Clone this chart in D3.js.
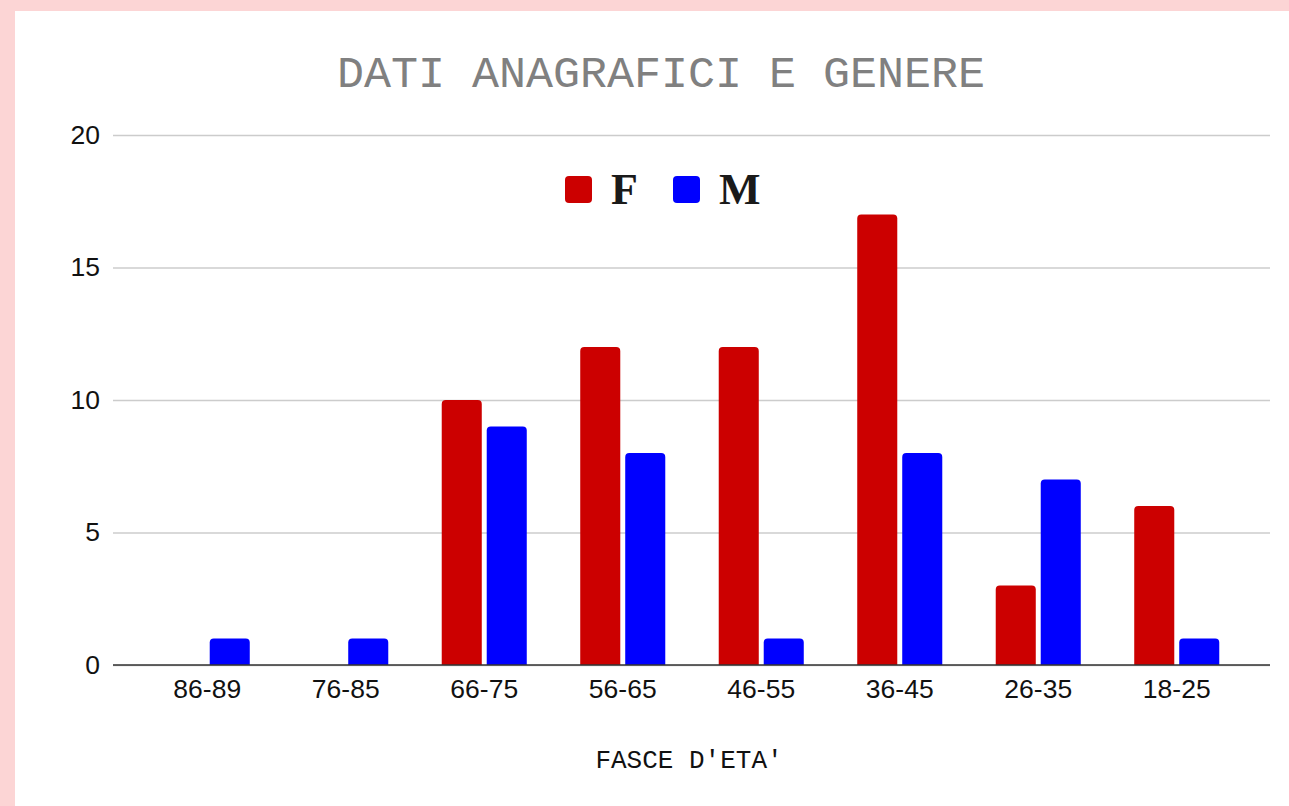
<!DOCTYPE html>
<html><head><meta charset="utf-8">
<script src="https://cdn.jsdelivr.net/npm/d3@7"></script>
<style>html,body{margin:0;padding:0;background:#fcd5d5;}svg{display:block;}</style>
</head><body>
<svg id="chart" width="1289" height="806"></svg>
<script>
const categories = ["86-89","76-85","66-75","56-65","46-55","36-45","26-35","18-25"];
const seriesNames = ["F","M"];
const valuesF = [0,0,10,12,12,17,3,6];
const valuesM = [1,1,9,8,1,8,7,1];
const yTicks = [0,5,10,15,20];
const colors = {F:"#cc0000", M:"#0000ff"};
const title = "DATI ANAGRAFICI E GENERE";
const xTitle = "FASCE D'ETA'";

const svg = d3.select("#chart");
svg.append("rect").attr("x",15).attr("y",11).attr("width",1274).attr("height",795).attr("fill","#fff");

const plotL = 113, plotR = 1270, yTop = 135, yBot = 665;
const y = d3.scaleLinear().domain([0,20]).range([yBot,yTop]);
const x0 = d3.scaleBand().domain(categories).range([138,1246]).paddingInner(0.386).paddingOuter(0.193);
const x1 = d3.scaleBand().domain(seriesNames).range([0,x0.bandwidth()]).paddingInner(0.11);

// gridlines
const yAxis = d3.axisLeft(y).tickValues(yTicks).tickSize(-(plotR-plotL)).tickFormat(d3.format("d"));
const gy = svg.append("g").attr("transform",`translate(${plotL},0)`).call(yAxis);
gy.select(".domain").remove();
gy.selectAll(".tick line").attr("stroke","#cccccc").attr("stroke-width",1.5);
gy.selectAll(".tick text").attr("x",-13).attr("font-family","'Liberation Sans', Arial, sans-serif")
  .attr("font-size",26.5).attr("fill","#111");

const data = categories.map((c,i)=>({cat:c, F:valuesF[i], M:valuesM[i]}));

function barPath(x,w,yt,yb,r){
  const h = yb-yt; if(h<=0) return "";
  r = Math.min(r,h,w/2);
  return `M${x},${yb}V${yt+r}Q${x},${yt} ${x+r},${yt}H${x+w-r}Q${x+w},${yt} ${x+w},${yt+r}V${yb}Z`;
}

const groups = svg.append("g").selectAll("g").data(data).join("g")
  .attr("transform",d=>`translate(${x0(d.cat)},0)`);
groups.selectAll("path").data(d=>seriesNames.map(s=>({s, v:d[s]}))).join("path")
  .attr("d",d=>barPath(x1(d.s), x1.bandwidth(), y(d.v), y(0), 4))
  .attr("fill",d=>colors[d.s]);

// x axis baseline
const xAxis = d3.axisBottom(x0).tickSize(0).tickPadding(14);
const gx = svg.append("g").attr("transform",`translate(0,${yBot})`).call(xAxis);
gx.select(".domain").remove();
gx.selectAll(".tick text").attr("font-family","'Liberation Sans', Arial, sans-serif")
  .attr("font-size",26.5).attr("fill","#111");
svg.append("line").attr("x1",plotL).attr("x2",plotR).attr("y1",y(0)).attr("y2",y(0))
  .attr("stroke","#333").attr("stroke-width",1.5);

// title
svg.append("text").attr("x",661).attr("y",87).attr("text-anchor","middle")
  .attr("font-family","'Liberation Mono', 'Courier New', monospace").attr("font-size",45)
  .attr("fill","#808080").text(title);

// axis title
svg.append("text").attr("x",689).attr("y",768).attr("text-anchor","middle")
  .attr("font-family","'Liberation Mono', 'Courier New', monospace").attr("font-size",26)
  .attr("fill","#111").text(xTitle);

// legend
const legendItems = [{s:"F", x:565},{s:"M", x:673}];
const lg = svg.append("g").selectAll("g").data(legendItems).join("g");
lg.append("rect").attr("x",d=>d.x).attr("y",176).attr("width",27).attr("height",27).attr("rx",4)
  .attr("fill",d=>colors[d.s]);
lg.append("text").attr("x",d=>d.x+46).attr("y",204)
  .attr("font-family","'Liberation Serif', 'Times New Roman', serif").attr("font-weight","bold")
  .attr("font-size",44).attr("fill","#1a1a1a").text(d=>d.s);
</script>
</body></html>
